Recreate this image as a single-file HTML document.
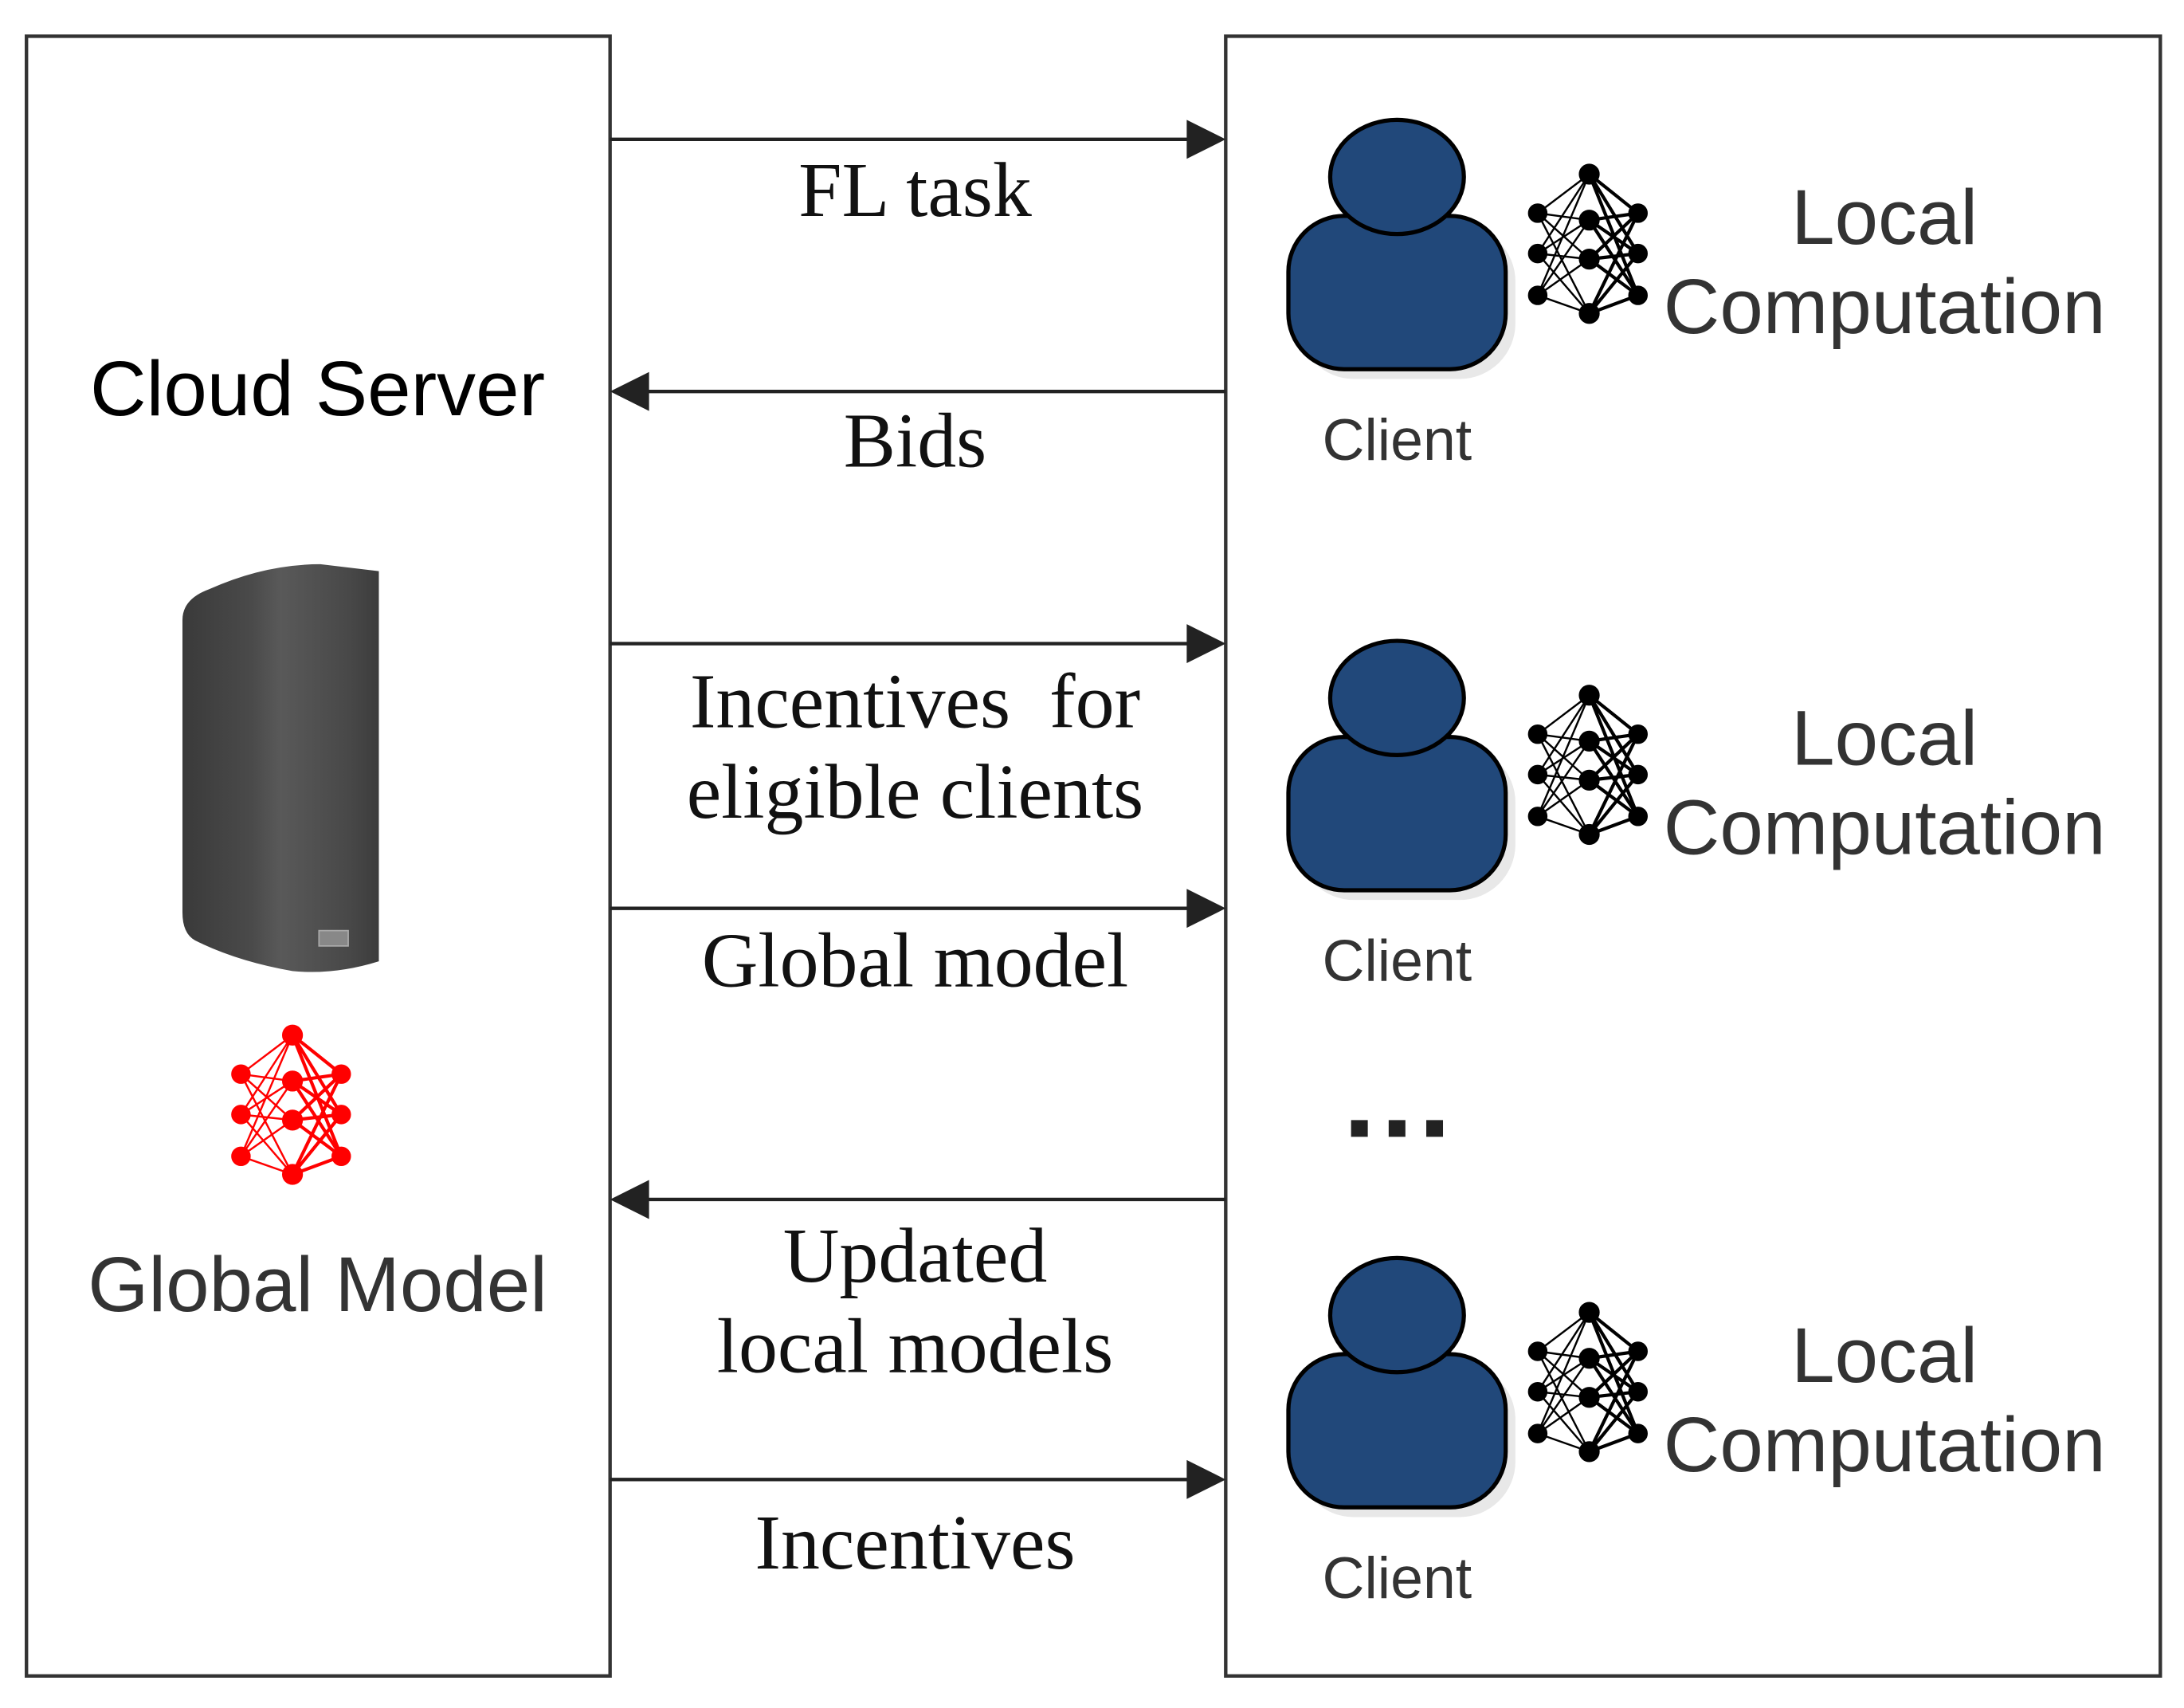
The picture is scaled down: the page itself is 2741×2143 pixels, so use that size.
<!DOCTYPE html>
<html><head><style>html,body{margin:0;padding:0;background:#fff}svg{display:block}</style></head><body>
<svg width="2741" height="2143" viewBox="0 0 1568 1226" preserveAspectRatio="none" xmlns="http://www.w3.org/2000/svg">
<defs>
<linearGradient id="srv" x1="0" x2="1" y1="0" y2="0">
<stop offset="0" stop-color="#3a3a3a"/><stop offset="0.35" stop-color="#4a4a4a"/><stop offset="0.5" stop-color="#595959"/><stop offset="0.85" stop-color="#484848"/><stop offset="1" stop-color="#3c3c3c"/>
</linearGradient>
<g id="nn">
<g stroke-width="1.4">
<path d="M0 0L37 -28M0 0L37 5M0 0L37 33M0 0L37 72M0 29L37 -28M0 29L37 5M0 29L37 33M0 29L37 72M0 59L37 -28M0 59L37 5M0 59L37 33M0 59L37 72"/>
<path stroke-width="2.4" d="M37 -28L72 0M37 -28L72 29M37 -28L72 59M37 5L72 0M37 5L72 29M37 5L72 59M37 33L72 0M37 33L72 29M37 33L72 59M37 72L72 0M37 72L72 29M37 72L72 59"/>
</g>
<circle cx="0" cy="0" r="6.5"/><circle cx="0" cy="29" r="6.5"/><circle cx="0" cy="59" r="6.5"/>
<circle cx="37" cy="-28" r="7"/><circle cx="37" cy="5" r="7"/><circle cx="37" cy="33" r="7"/><circle cx="37" cy="72" r="7"/>
<circle cx="72" cy="0" r="6.5"/><circle cx="72" cy="29" r="6.5"/><circle cx="72" cy="59" r="6.5"/>
</g>
<g id="client">
<rect x="932" y="162" width="156" height="110" rx="40" fill="#e8e8e8"/>
<rect x="925" y="155" width="156" height="110" rx="40" fill="#21487a" stroke="#000" stroke-width="3"/>
<ellipse cx="1003" cy="127" rx="48" ry="41" fill="#21487a" stroke="#000" stroke-width="3"/>
<g fill="#000" stroke="#000"><use href="#nn" transform="translate(1104,153)"/></g>
<text x="1003" y="330" font-family="Liberation Sans, sans-serif" font-size="42" fill="#333" text-anchor="middle">Client</text>
<text x="1353" y="175" font-family="Liberation Sans, sans-serif" font-size="56" fill="#333" text-anchor="middle">Local</text>
<text x="1353" y="239" font-family="Liberation Sans, sans-serif" font-size="56" fill="#333" text-anchor="middle">Computation</text>
</g>
</defs>
<rect x="19" y="26" width="419" height="1177" fill="none" stroke="#333" stroke-width="2.5"/>
<rect x="880" y="26" width="671" height="1177" fill="none" stroke="#333" stroke-width="2.5"/>
<g stroke="#222" stroke-width="2.5">
<line x1="438" y1="100" x2="855" y2="100"/><line x1="463" y1="281" x2="880" y2="281"/>
<line x1="438" y1="462" x2="855" y2="462"/><line x1="438" y1="652" x2="855" y2="652"/>
<line x1="463" y1="861" x2="880" y2="861"/><line x1="438" y1="1062" x2="855" y2="1062"/>
</g>
<g fill="#222">
<polygon points="880,100 852,86 852,114"/><polygon points="438,281 466,267 466,295"/>
<polygon points="880,462 852,448 852,476"/><polygon points="880,652 852,638 852,666"/>
<polygon points="438,861 466,847 466,875"/><polygon points="880,1062 852,1048 852,1076"/>
</g>
<g font-family="Liberation Serif, serif" font-size="56" fill="#111" text-anchor="middle">
<text x="657" y="155">FL task</text>
<text x="657" y="335">Bids</text>
<text x="657" y="522" xml:space="preserve">Incentives  for</text>
<text x="657" y="587">eligible clients</text>
<text x="657" y="708">Global model</text>
<text x="657" y="920">Updated</text>
<text x="657" y="985">local models</text>
<text x="657" y="1126">Incentives</text>
</g>
<text x="228" y="298" font-family="Liberation Sans, sans-serif" font-size="56" fill="#000" text-anchor="middle">Cloud Server</text>
<text x="228" y="941" font-family="Liberation Sans, sans-serif" font-size="56" fill="#333" text-anchor="middle">Global Model</text>
<path d="M131 445 Q131 430 150 423 Q190 405 230 405 L272 410 L272 690 Q240 700 210 697 Q170 690 140 675 Q131 670 131 655 Z" fill="url(#srv)"/>
<rect x="229" y="668" width="21" height="11" fill="#888" stroke="#aaa" stroke-width="1"/>
<g fill="#f00" stroke="#f00"><use href="#nn" transform="translate(173,771)"/></g>
<use href="#client"/>
<use href="#client" transform="translate(0,374)"/>
<use href="#client" transform="translate(0,817)"/>
<g fill="#222"><rect x="970" y="804" width="12" height="12"/><rect x="997" y="804" width="12" height="12"/><rect x="1024" y="804" width="12" height="12"/></g>
</svg>
</body></html>
